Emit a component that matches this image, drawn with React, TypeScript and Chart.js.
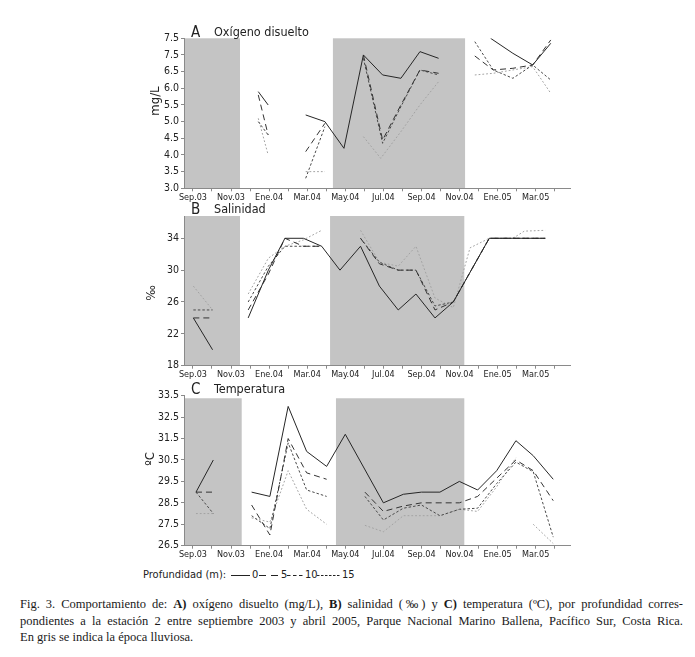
import React, { useEffect, useRef } from "react";
import { Chart, registerables } from "chart.js";

Chart.register(...registerables);

// ---------- shared axis data ----------
// month index: 0 = Sep.03, 1 = Oct.03, ... ; labels every two months
const monthLabels = ["Sep.03", "Nov.03", "Ene.04", "Mar.04", "May.04", "Jul.04", "Sep.04", "Nov.04", "Ene.05", "Mar.05"];
const monthTicks = [0, 1, 2, 3, 4, 5, 6, 7, 8, 9, 10, 11, 12, 13, 14, 15, 16, 17, 18, 19];
const depthNames = ["0", "5", "10", "15"];

// ---------- Panel A: oxígeno disuelto (mg/L) ----------
const oxX0 = [3.43, 3.95, 5.0, 5.92, 6.93, 7.93, 8.95, 9.96, 10.92, 11.92, 12.9, 14.0, 15.63, 16.8, 17.84, 18.79];
const oxY0 = [5.9, 5.5, null, 5.2, 5.0, 4.2, 7.0, 6.4, 6.3, 7.1, 6.9, null, 7.5, 7.05, 6.7, 7.35];
const oxX5 = [3.43, 3.95, 5.0, 5.92, 6.93, 8.0, 8.95, 9.96, 10.92, 11.92, 12.9, 14.0, 14.8, 15.77, 16.8, 17.84, 18.79];
const oxY5 = [5.8, 4.6, null, 4.1, 4.95, null, 7.0, 4.45, 5.5, 6.55, 6.45, null, 6.97, 6.55, 6.6, 6.7, 7.45];
const oxX10 = [3.43, 3.95, 5.0, 5.92, 6.93, 8.0, 8.95, 9.96, 10.92, 11.92, 12.9, 14.0, 14.8, 15.77, 16.8, 17.84, 18.79];
const oxY10 = [5.0, 4.6, null, 3.3, 4.85, null, 6.9, 4.35, 5.45, 6.55, 6.4, null, 7.4, 6.55, 6.3, 6.7, 6.25];
const oxX15 = [3.43, 3.95, 5.0, 5.92, 6.93, 8.0, 8.95, 9.86, 10.92, 11.92, 12.9, 14.0, 14.8, 15.77, 16.8, 17.84, 18.79];
const oxY15 = [5.1, 4.0, null, 3.5, 3.5, null, 4.55, 3.9, 4.7, 5.5, 6.2, null, 6.4, 6.45, 6.55, 6.65, 5.85];
const oxTicks = [3.0, 3.5, 4.0, 4.5, 5.0, 5.5, 6.0, 6.5, 7.0, 7.5];
const oxTickLabels = ["3.0", "3.5", "4.0", "4.5", "5.0", "5.5", "6.0", "6.5", "7.5", "7.5"];
const oxRange = [3.0, 7.5];
const oxRain = [[-0.47, 2.47], [7.35, 14.29]];

// ---------- Panel B: salinidad (‰) ----------
const saX0 = [0.02, 1.03, 2.0, 2.9, 3.96, 4.83, 5.8, 6.76, 7.72, 8.8, 9.79, 10.78, 11.71, 12.71, 13.67, 15.56, 16.8, 17.8, 18.5];
const saY0 = [24, 20, null, 24, 30, 34, 34, 33, 30, 33, 28, 25, 27, 24, 26, 34, 34, 34, 34];
const saX5 = [0.02, 1.03, 2.0, 2.9, 3.96, 4.83, 5.8, 6.76, 7.5, 8.8, 9.79, 10.78, 11.71, 12.71, 13.67, 15.56, 16.8, 17.8, 18.5];
const saY5 = [24, 24, null, 25, 29.5, 34, 33, 33, null, 34, 30.8, 30, 30, 25, 26, 34, 34, 34, 34];
const saX10 = [0.02, 1.03, 2.0, 2.9, 3.96, 4.83, 5.8, 6.76, 7.5, 8.8, 9.79, 10.78, 11.71, 12.71, 13.67, 15.56, 16.8, 17.8, 18.5];
const saY10 = [25, 25, null, 26, 30.5, 33, 33, 33, null, 34, 31, 30, 30, 25.5, 26, 34, 34, 34, 34];
const saX15 = [0.02, 1.03, 2.0, 2.9, 3.96, 4.83, 5.8, 6.76, 7.5, 8.8, 9.79, 10.78, 11.71, 12.71, 13.67, 14.55, 15.56, 16.8, 17.4, 18.5];
const saY15 = [28, 25, null, 27, 31.5, 33, 33.8, 35, null, 35, 31, 30.5, 33, 26.5, 25.3, 32.8, 34, 34, 34.9, 35];
const saTicks = [18, 22, 26, 30, 34];
const saTickLabels = ["18", "22", "26", "30", "34"];
const saRange = [18, 36.8];
const saRain = [[-0.47, 2.47], [7.2, 14.25]];

// ---------- Panel C: temperatura (ºC) ----------
const teX0 = [0.16, 1.07, 2.0, 3.08, 4.04, 5.0, 5.97, 7.02, 8.0, 10.0, 11.05, 12.0, 12.97, 13.99, 14.95, 15.95, 16.96, 17.87, 18.92];
const teY0 = [29, 30.5, null, 29, 28.8, 33.0, 30.9, 30.2, 31.7, 28.5, 28.9, 29.0, 29.0, 29.5, 29.1, 30.0, 31.4, 30.7, 29.6];
const teX5 = [0.16, 1.07, 2.0, 3.08, 4.04, 5.0, 5.97, 7.02, 8.0, 9.03, 10.0, 11.05, 12.0, 12.97, 13.99, 14.95, 15.95, 16.96, 17.87, 18.92];
const teY5 = [29, 29, null, 28.4, 27.0, 31.5, 29.9, 29.6, null, 29.0, 28.1, 28.35, 28.5, 28.5, 28.5, 28.8, 29.65, 30.5, 30.0, 28.6];
const teX10 = [0.16, 1.07, 2.0, 3.08, 4.04, 5.0, 5.97, 7.02, 8.0, 9.03, 10.0, 11.05, 12.0, 12.97, 13.99, 14.95, 15.95, 16.96, 17.87, 18.92];
const teY10 = [29, 28, null, 27.9, 27.3, 31.3, 29.1, 28.8, null, 28.8, 27.7, 28.25, 28.4, 27.9, 28.2, 28.25, 29.4, 30.4, 29.95, 26.9];
const teX15 = [0.16, 1.07, 2.0, 3.08, 4.04, 5.0, 5.97, 7.02, 8.0, 9.03, 10.0, 11.05, 12.0, 12.97, 13.99, 14.95, 15.95, 16.96, 17.4, 17.87, 18.92];
const teY15 = [28, 28, null, 27.8, 27.6, 30.0, 28.2, 27.5, null, 27.45, 27.15, 27.9, 27.9, 27.9, 28.2, 28.1, 29.25, 30.6, null, 27.5, 26.6];
const teTicks = [26.5, 27.5, 28.5, 29.5, 30.5, 31.5, 32.5, 33.5];
const teTickLabels = ["26.5", "27.5", "28.5", "29.5", "30.5", "31.5", "32.5", "33.5"];
const teRange = [26.5, 33.5];
const teRain = [[-0.47, 2.56], [7.51, 14.25]];

// ---------- styles ----------
const SANS = '"Liberation Sans Narrow", "DejaVu Sans Condensed", Roboto, sans-serif';
const depthStyles = [
  { color: "#262626", dash: [] as number[] },
  { color: "#333333", dash: [6, 4] },
  { color: "#4a4a4a", dash: [2.5, 2] },
  { color: "#a3a3a3", dash: [1.8, 2] },
];

const rainPlugin = {
  id: "rain",
  beforeDraw(chart: any, _args: any, opts: any) {
    const { ctx, chartArea, scales } = chart;
    const xs = scales.x;
    const ys = scales.y;
    ctx.save();
    ctx.fillStyle = opts.color;
    const top = opts.top != null ? ys.getPixelForValue(opts.top) : chartArea.top;
    for (const r of opts.ranges) {
      const x0 = Math.max(xs.getPixelForValue(r[0]), chartArea.left);
      const x1 = Math.min(xs.getPixelForValue(r[1]), chartArea.right);
      ctx.fillRect(x0, top, x1 - x0, chartArea.bottom - top);
    }
    ctx.restore();
  },
};

type Panel = {
  xs: number[][];
  ys: (number | null)[][];
  yTicks: number[];
  yLabels: string[];
  yRange: number[];
  rain: number[][];
  rainTop: number | null;
  canvasTop: number;
  canvasH: number;
  padTop: number;
  xAxisH: number;
};

const panels: Panel[] = [
  {
    xs: [oxX0, oxX5, oxX10, oxX15],
    ys: [oxY0, oxY5, oxY10, oxY15],
    yTicks: oxTicks, yLabels: oxTickLabels, yRange: oxRange, rain: oxRain, rainTop: null,
    canvasTop: 0, canvasH: 210, padTop: 38.3, xAxisH: 21.7,
  },
  {
    xs: [saX0, saX5, saX10, saX15],
    ys: [saY0, saY5, saY10, saY15],
    yTicks: saTicks, yLabels: saTickLabels, yRange: saRange, rain: saRain, rainTop: null,
    canvasTop: 205, canvasH: 185, padTop: 11, xAxisH: 24.3,
  },
  {
    xs: [teX0, teX5, teX10, teX15],
    ys: [teY0, teY5, teY10, teY15],
    yTicks: teTicks, yLabels: teTickLabels, yRange: teRange, rain: teRain, rainTop: 33.38,
    canvasTop: 380, canvasH: 180, padTop: 15.7, xAxisH: 14.3,
  },
];

function makeConfig(p: Panel): any {
  return {
    type: "line",
    data: {
      datasets: p.xs.map((xArr, i) => ({
        label: depthNames[i],
        data: xArr.map((x, j) => ({ x, y: p.ys[i][j] })),
        borderColor: depthStyles[i].color,
        borderDash: depthStyles[i].dash,
        borderWidth: 1,
        pointRadius: 0,
        tension: 0,
        fill: false,
        spanGaps: false,
      })),
    },
    options: {
      animation: false,
      responsive: false,
      events: [],
      layout: { padding: { top: p.padTop, right: 125, left: 0, bottom: 0 } },
      plugins: {
        legend: { display: false },
        tooltip: { enabled: false },
        rain: { ranges: p.rain, color: "#c4c4c4", top: p.rainTop },
      },
      scales: {
        x: {
          type: "linear",
          min: -0.47,
          max: 19.8,
          afterBuildTicks: (s: any) => {
            s.ticks = monthTicks.map((v) => ({ value: v }));
          },
          afterFit: (s: any) => {
            s.height = p.xAxisH;
          },
          ticks: {
            autoSkip: false,
            maxRotation: 0,
            padding: 1,
            color: "#222",
            font: { family: SANS, size: 9 },
            callback: (v: number) => (v % 2 === 0 && v / 2 < monthLabels.length ? monthLabels[v / 2] : ""),
          },
          grid: { drawOnChartArea: false, tickLength: 3, color: "#8a8a8a" },
          border: { color: "#8a8a8a", width: 1 },
        },
        y: {
          type: "linear",
          min: p.yRange[0],
          max: p.yRange[1],
          afterBuildTicks: (s: any) => {
            s.ticks = p.yTicks.map((v) => ({ value: v }));
          },
          afterFit: (s: any) => {
            s.width = 184;
          },
          ticks: {
            padding: 2,
            color: "#222",
            font: { family: SANS, size: 10.5 },
            callback: (v: number) => {
              const k = p.yTicks.findIndex((t) => Math.abs(t - v) < 1e-6);
              return k >= 0 ? p.yLabels[k] : "";
            },
          },
          grid: { drawOnChartArea: false, tickLength: 3, color: "#8a8a8a" },
          border: { color: "#8a8a8a", width: 1 },
        },
      },
    },
    plugins: [rainPlugin],
  };
}

function PanelChart({ p }: { p: Panel }) {
  const ref = useRef<HTMLCanvasElement | null>(null);
  useEffect(() => {
    if (!ref.current) return;
    const chart = new Chart(ref.current, makeConfig(p));
    return () => chart.destroy();
  }, [p]);
  return (
    <canvas
      ref={ref}
      width={695}
      height={p.canvasH}
      style={{ position: "absolute", left: 0, top: p.canvasTop, width: 695, height: p.canvasH }}
    />
  );
}

const abs = (left: number, top: number, extra: React.CSSProperties = {}): React.CSSProperties => ({
  position: "absolute",
  left,
  top,
  whiteSpace: "nowrap",
  ...extra,
});

function YTitle({ text, x, y, size }: { text: string; x: number; y: number; size: number }) {
  return (
    <div
      style={abs(x, y, {
        transform: "translate(-50%, -50%) rotate(-90deg)",
        fontFamily: SANS,
        fontSize: size,
        color: "#222",
        lineHeight: "14px",
      })}
    >
      {text}
    </div>
  );
}

function PanelTitle({ letter, title, y }: { letter: string; title: string; y: number }) {
  return (
    <>
      <div style={abs(191, y - 9, { fontFamily: SANS, fontSize: 15, lineHeight: "18px", color: "#222" })}>{letter}</div>
      <div style={abs(214, y - 8, { fontFamily: SANS, fontSize: 12.5, lineHeight: "16px", color: "#222" })}>{title}</div>
    </>
  );
}

function LegendLine({ x, w, dash }: { x: number; w: number; dash: string }) {
  return (
    <svg width={w} height={10} style={abs(x, 570)}>
      <line x1={0} y1={5.5} x2={w} y2={5.5} stroke="#222" strokeWidth={1} strokeDasharray={dash} />
    </svg>
  );
}

function LegendText({ x, text }: { x: number; text: string }) {
  return (
    <div style={abs(x, 568, { fontFamily: SANS, fontSize: 11, lineHeight: "14px", color: "#222" })}>{text}</div>
  );
}

export default function App() {
  const lineStyle: React.CSSProperties = {
    textAlign: "justify",
    textAlignLast: "justify" as any,
    whiteSpace: "normal",
  };
  return (
    <div
      style={{
        position: "absolute",
        left: 0,
        top: 0,
        width: 695,
        height: 657,
        overflow: "hidden",
        background: "#fff",
      }}
    >
      {panels.map((p, i) => (
        <PanelChart key={i} p={p} />
      ))}

      <PanelTitle letter="A" title="Oxígeno disuelto" y={31.5} />
      <PanelTitle letter="B" title="Salinidad" y={208.5} />
      <PanelTitle letter="C" title="Temperatura" y={388.5} />

      <YTitle text="mg/L" x={155} y={101} size={13} />
      <YTitle text="‰" x={151} y={293} size={13} />
      <YTitle text="ºC" x={150} y={459} size={13} />

      <LegendText x={143} text="Profundidad (m):" />
      <LegendLine x={231} w={19} dash="" />
      <LegendText x={252} text="0" />
      <LegendLine x={259} w={19} dash="7 5" />
      <LegendText x={281} text="5" />
      <LegendLine x={287} w={16} dash="3.5 2.5" />
      <LegendText x={305} text="10" />
      <LegendLine x={317} w={23} dash="2.5 1.5" />
      <LegendText x={342} text="15" />

      <div
        style={abs(20, 596, {
          width: 663,
          fontFamily: '"Liberation Serif", "DejaVu Serif", "Times New Roman", serif',
          fontSize: 12.5,
          lineHeight: "16.5px",
          color: "#1a1a1a",
          whiteSpace: "normal",
        })}
      >
        <div style={lineStyle}>
          Fig. 3. Comportamiento de: <b>A)</b> oxígeno disuelto (mg/L), <b>B)</b> salinidad (‰) y <b>C)</b> temperatura
          (ºC), por profundidad corres-
        </div>
        <div style={lineStyle}>
          pondientes a la estación 2 entre septiembre 2003 y abril 2005, Parque Nacional Marino Ballena, Pacífico Sur,
          Costa Rica.
        </div>
        <div>En gris se indica la época lluviosa.</div>
      </div>
    </div>
  );
}
